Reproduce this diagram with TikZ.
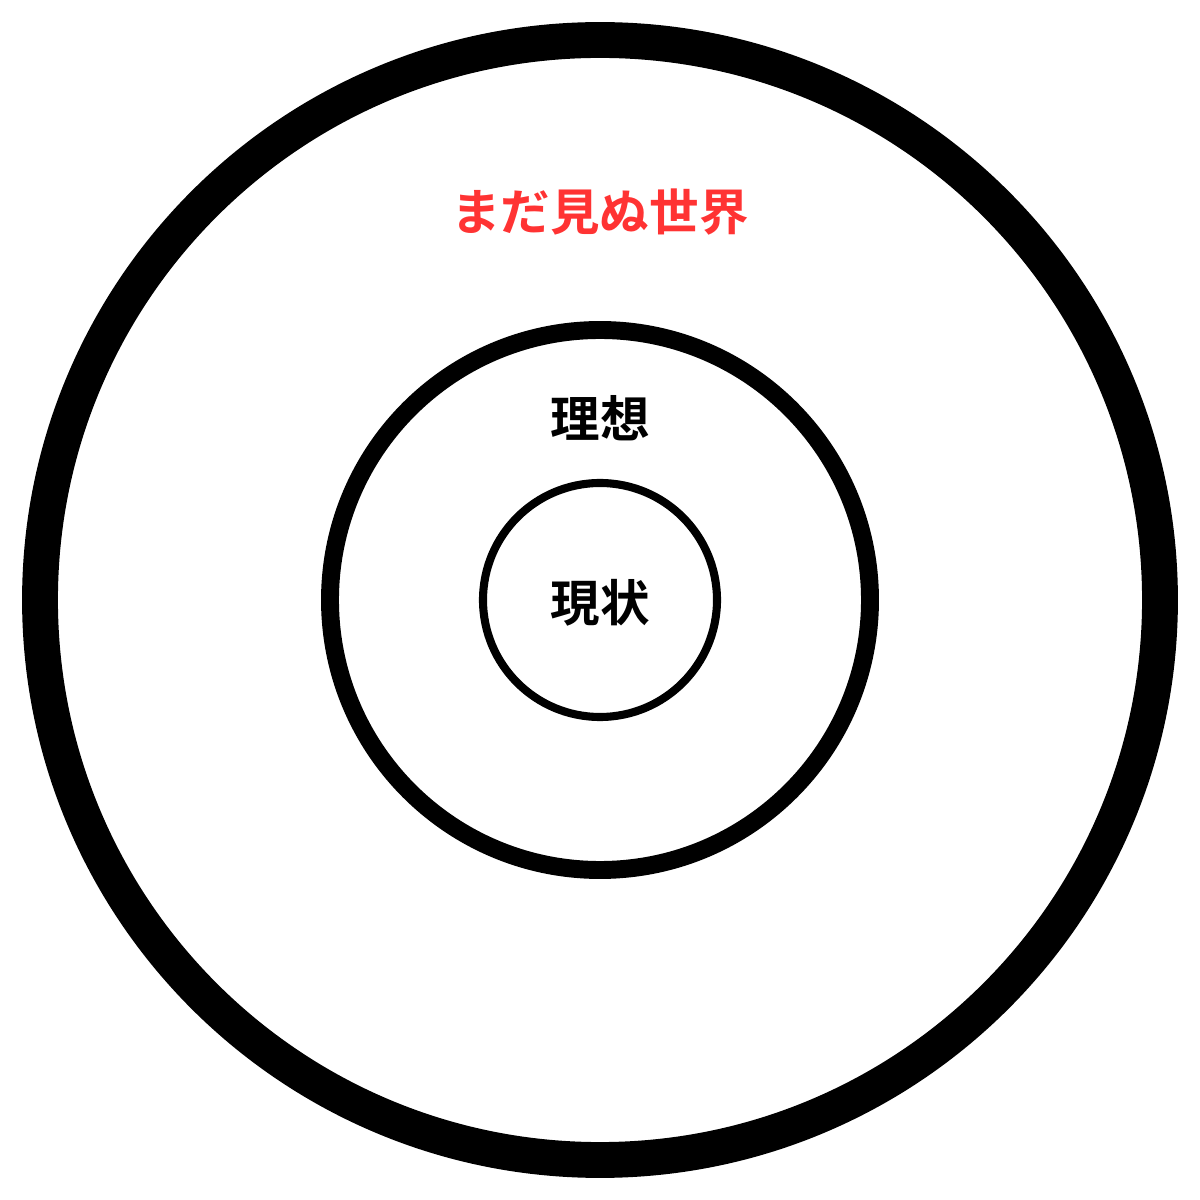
\documentclass[tikz,border=0pt]{standalone}
\usepackage{fontspec}
\newfontfamily\cjk{Noto Sans CJK JP}[BoldFont={Noto Sans CJK JP Bold}]
\usepackage{tikz}
\usetikzlibrary{positioning}
\definecolor{worldred}{HTML}{FF3333}

\begin{document}
\begin{tikzpicture}[
  ring/.style={circle,draw,inner sep=0pt},
  tag/.style={font=\cjk\bfseries\fontsize{14.1}{16}\selectfont,inner sep=0pt}
]
  \useasboundingbox (0,0) rectangle (12,12);
  \node[ring,line width=10.2pt,minimum size=11.2cm] (world) at (6,6) {};
  \node[ring,line width=5.1pt,minimum size=5.4cm] (ideal) at (6,6) {};
  \node[ring,line width=2.3pt,minimum size=2.34cm] (now) at (6,6) {};
  \node[tag,text=worldred] (worldtxt) at (6,9.88) {まだ見ぬ世界};
  \node[tag] (idealtxt) at (6,7.82) {理想};
  \node[tag] (nowtxt) at (6,5.97) {現状};
\end{tikzpicture}
\end{document}
